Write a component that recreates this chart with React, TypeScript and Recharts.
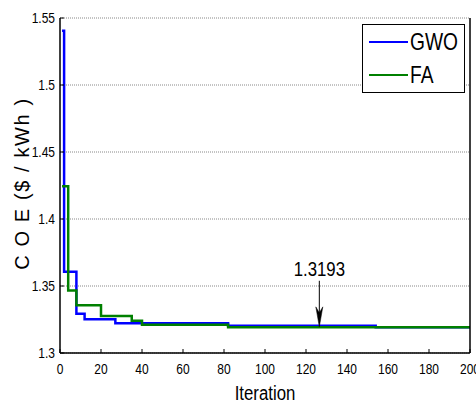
import React from 'react';
import {
  LineChart, Line, XAxis, YAxis, CartesianGrid, ReferenceLine, ReferenceDot, Legend,
} from 'recharts';

const gwoIter = [1, 2, 8, 12, 27, 82, 154, 200];
const gwoCost = [1.5405, 1.3606, 1.3292, 1.3252, 1.3222, 1.3203, 1.3193, 1.3193];
const faIter = [1, 4, 8, 20, 35, 40, 82, 200];
const faCost = [1.4245, 1.3466, 1.3357, 1.3277, 1.324, 1.321, 1.3193, 1.3193];
const xTicks = [0, 20, 40, 60, 80, 100, 120, 140, 160, 180, 200];
const yTicks = [1.3, 1.35, 1.4, 1.45, 1.5, 1.55];
const annotIter = 126.5;
const annotValue = 1.3193;
const annotLabel = '1.3193';

const gwoData = gwoIter.map((x, i) => ({ x, y: gwoCost[i] }));
const faData = faIter.map((x, i) => ({ x, y: faCost[i] }));

const ARIAL = "'Liberation Sans', Arial, sans-serif";
const SQ = 0.8;

const NText = ({ x, y, size, anchor, dy, children }: any) => (
  <g transform={`translate(${x},${y})`}>
    <text transform={`scale(${SQ},1)`} x={0} y={0} dy={dy} textAnchor={anchor} fontSize={size} fontFamily={ARIAL} fill="#000">
      {children}
    </text>
  </g>
);

const XTick = (p: any) => (
  <NText x={p.x} y={p.y} size={15} anchor="middle" dy="0.71em">{String(p.payload.value)}</NText>
);
const YTick = (p: any) => (
  <NText x={p.x} y={p.y} size={15} anchor="end" dy="0.355em">{String(p.payload.value)}</NText>
);

const LegendBox = () => (
  <div style={{ width: 103, height: 69, border: '1px solid #000', background: '#fff', boxSizing: 'border-box', position: 'relative', fontFamily: ARIAL }}>
    {[{ name: 'GWO', color: '#0000ff', top: 17 }, { name: 'FA', color: '#008000', top: 50 }].map((e) => (
      <div key={e.name} style={{ position: 'absolute', left: 6, top: e.top - 14, height: 28, display: 'flex', alignItems: 'center' }}>
        <div style={{ width: 39, height: 2.5, background: e.color }} />
        <span style={{ marginLeft: 2, fontSize: 24, lineHeight: '28px', color: '#000', display: 'inline-block', transform: `scaleX(${SQ})`, transformOrigin: 'left center' }}>{e.name}</span>
      </div>
    ))}
  </div>
);

export default function App() {
  return (
    <div style={{ position: 'absolute', left: 0, top: 0, background: '#fff' }}>
      <LineChart width={476} height={403} margin={{ top: 18, right: 0, bottom: 0, left: 0 }}>
        <CartesianGrid vertical={false} stroke="#888" strokeDasharray="1 1" yAxisId="l" />
        <XAxis
          xAxisId="b" dataKey="x" type="number" domain={[0, 200]} ticks={xTicks}
          allowDataOverflow height={50} tickSize={-4} tickMargin={14}
          axisLine={{ stroke: '#000', strokeWidth: 1.5 }} tickLine={{ stroke: '#000' }}
          tick={<XTick />} interval={0}
          label={(props: any) => {
            const vb = props.viewBox;
            return (
              <NText x={vb.x + vb.width / 2} y={vb.y + 47} size={21} anchor="middle">Iteration</NText>
            );
          }}
        />
        <XAxis
          xAxisId="t" orientation="top" dataKey="x" type="number" domain={[0, 200]} ticks={xTicks}
          height={0} tickSize={-4} tick={false} interval={0}
          axisLine={{ stroke: '#000', strokeWidth: 1.5 }} tickLine={{ stroke: '#000' }}
        />
        <YAxis
          yAxisId="l" type="number" domain={[1.3, 1.55]} ticks={yTicks} allowDataOverflow
          width={60} tickSize={-4} tickMargin={9} interval={0}
          axisLine={{ stroke: '#000', strokeWidth: 1.5 }} tickLine={{ stroke: '#000' }}
          tick={<YTick />}
          label={(props: any) => {
            const vb = props.viewBox;
            const cx = vb.x + 22;
            const cy = vb.y + vb.height / 2 - 2;
            return (
              <text x={cx} y={cy} transform={`rotate(-90 ${cx} ${cy})`} textAnchor="middle" dominantBaseline="central" fontSize={20} letterSpacing={1.6} fontFamily={ARIAL} fill="#000">C O E ($ / kWh )</text>
            );
          }}
        />
        <YAxis
          yAxisId="r" orientation="right" type="number" domain={[1.3, 1.55]} ticks={yTicks}
          width={6} tickSize={-4} tick={false} interval={0}
          axisLine={{ stroke: '#000', strokeWidth: 1.5 }} tickLine={{ stroke: '#000' }}
        />
        <Line xAxisId="b" yAxisId="l" data={gwoData} dataKey="y" type="stepAfter" stroke="#0000ff" strokeWidth={2.5} dot={false} isAnimationActive={false} name="GWO" />
        <Line xAxisId="b" yAxisId="l" data={faData} dataKey="y" type="stepAfter" stroke="#008000" strokeWidth={2.5} dot={false} isAnimationActive={false} name="FA" />
        <ReferenceLine
          xAxisId="b" yAxisId="l"
          segment={[{ x: annotIter, y: 1.3539 }, { x: annotIter, y: annotValue + 0.008 }]}
          stroke="#000" strokeWidth={1}
        />
        <ReferenceDot
          xAxisId="b" yAxisId="l" x={annotIter} y={annotValue + 0.0002}
          shape={(p: any) => (
            <path d={`M${p.cx},${p.cy} L${p.cx - 3.5},${p.cy - 20} L${p.cx},${p.cy - 14} L${p.cx + 3.5},${p.cy - 20} Z`} fill="#000" stroke="#000" strokeWidth={0.5} />
          )}
        />
        <ReferenceDot
          xAxisId="b" yAxisId="l" x={annotIter} y={1.3575}
          shape={(p: any) => (
            <NText x={p.cx} y={p.cy} size={21} anchor="middle">{annotLabel}</NText>
          )}
        />
        <Legend
          layout="vertical" align="center" verticalAlign="middle"
          wrapperStyle={{ position: 'absolute', left: 362, top: 24, width: 103, height: 69 }}
          content={() => <LegendBox />}
        />
      </LineChart>
    </div>
  );
}
